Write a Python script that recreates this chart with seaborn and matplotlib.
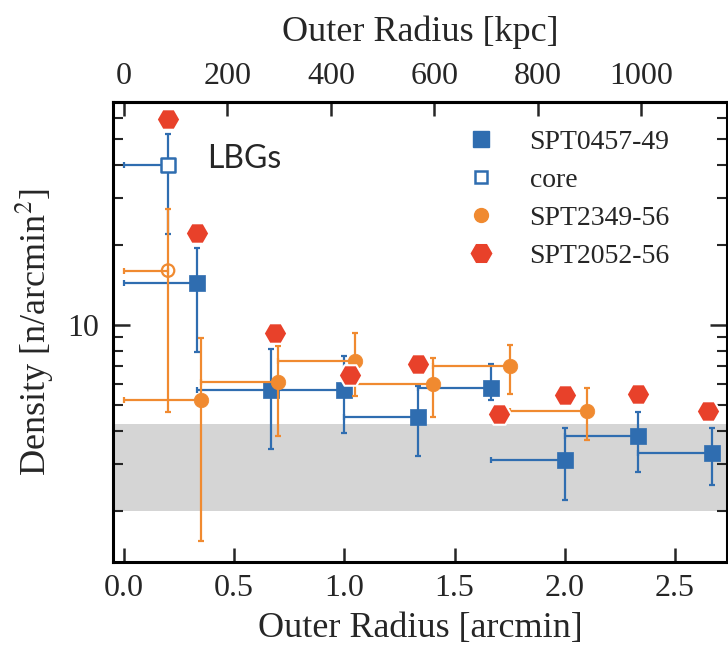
import numpy as np
import pandas as pd
import matplotlib
matplotlib.use("Agg")
import matplotlib.pyplot as plt
import seaborn as sns
from matplotlib.lines import Line2D
from matplotlib.ticker import FixedLocator, FixedFormatter, NullFormatter, LogLocator

# ---- SPT0457-49 (annuli, outer radius in arcmin) ----
spt0457_r_out = [1/3, 2/3, 1.0, 4/3, 5/3, 2.0, 7/3, 8/3]
spt0457_r_in = [0.0, 1/3, 2/3, 1.0, 4/3, 5/3, 2.0, 7/3]
spt0457_density = [14.4, 5.7, 5.7, 4.5, 5.8, 3.1, 3.8, 3.3]
spt0457_low = [7.9, 3.4, 3.9, 3.2, 5.2, 2.2, 2.8, 2.5]
spt0457_high = [19.5, 8.1, 7.6, 5.9, 7.1, 4.1, 4.7, 4.1]

# SPT0457-49 core
spt0457_core_r = [0.2]
spt0457_core_density = [39.8]
spt0457_core_low = [22.0]
spt0457_core_high = [52.1]

# ---- SPT2349-56 ----
spt2349_r_out = [0.35, 0.70, 1.05, 1.40, 1.75, 2.10]
spt2349_r_in = [0.0, 0.35, 0.70, 1.05, 1.40, 1.75]
spt2349_density = [5.2, 6.1, 7.3, 6.0, 7.0, 4.75]
spt2349_low = [1.53, 3.8, 5.4, 4.5, 5.5, 3.7]
spt2349_high = [8.9, 8.3, 9.3, 7.5, 8.4, 5.8]

# SPT2349-56 core
spt2349_core_r = [0.2]
spt2349_core_density = [16.0]
spt2349_core_low = [4.7]
spt2349_core_high = [27.4]

# ---- SPT2052-56 ----
spt2052_r = [0.2, 1/3, 0.685, 1.025, 4/3, 1.70, 2.0, 7/3, 2.65]
spt2052_density = [59.4, 22.2, 9.35, 6.5, 7.1, 4.6, 5.45, 5.5, 4.75]

# field level band
field_low, field_high = 2.0, 4.23
kpc_per_arcmin = 426.0

blue = "#2f6db0"
orange = "#f08a30"
red = "#e8412a"

sns.set_theme(style="ticks")
plt.rcParams["font.family"] = ["Liberation Serif", "DejaVu Serif"]
plt.rcParams["mathtext.fontset"] = "stix"

fig = plt.figure(figsize=(7.28, 6.55), dpi=100)
ax = fig.add_axes([0.1552, 0.142, 0.843, 0.7023])
ax.set_yscale("log")

ax.axhspan(field_low, field_high, color="#d5d5d5", lw=0, zorder=0)


def bars(r_out, r_in, d, lo, hi, color, z):
    r_out = np.asarray(r_out); r_in = np.asarray(r_in)
    d = np.asarray(d); lo = np.asarray(lo); hi = np.asarray(hi)
    ax.errorbar(r_out, d, yerr=[d - lo, hi - d],
                xerr=[r_out - r_in, np.zeros_like(r_out)],
                fmt="none", ecolor=color, elinewidth=1.6, capsize=2.5,
                capthick=1.6, zorder=z)


bars(spt0457_r_out, spt0457_r_in, spt0457_density, spt0457_low, spt0457_high, blue, 2)
bars(spt0457_core_r, [0.0], spt0457_core_density, spt0457_core_low, spt0457_core_high, blue, 2)
bars(spt2349_r_out, spt2349_r_in, spt2349_density, spt2349_low, spt2349_high, orange, 4)
bars(spt2349_core_r, [0.0], spt2349_core_density, spt2349_core_low, spt2349_core_high, orange, 4)

df0457 = pd.DataFrame({"r": spt0457_r_out, "d": spt0457_density})
df0457c = pd.DataFrame({"r": spt0457_core_r, "d": spt0457_core_density})
df2349 = pd.DataFrame({"r": spt2349_r_out, "d": spt2349_density})
df2349c = pd.DataFrame({"r": spt2349_core_r, "d": spt2349_core_density})
df2052 = pd.DataFrame({"r": spt2052_r, "d": spt2052_density})

sns.scatterplot(data=df0457, x="r", y="d", marker="s", s=130, color=blue,
                edgecolor=blue, linewidth=0.5, ax=ax, zorder=3, legend=False)
sns.scatterplot(data=df0457c, x="r", y="d", marker="s", s=90, facecolor="white",
                edgecolor=blue, linewidth=1.8, ax=ax, zorder=3, legend=False)
sns.scatterplot(data=df2349, x="r", y="d", marker="o", s=110, color=orange,
                edgecolor=orange, linewidth=0.5, ax=ax, zorder=5, legend=False)
sns.scatterplot(data=df2349c, x="r", y="d", marker="o", s=80, facecolor="none",
                edgecolor=orange, linewidth=1.6, ax=ax, zorder=5, legend=False)
sns.scatterplot(data=df2052, x="r", y="d", marker="H", s=290, color=red,
                edgecolor="white", linewidth=1.5, ax=ax, zorder=6, legend=False)

ax.set_xlim(-0.05, 2.735)
ax.set_ylim(1.28, 69)
ax.set_xticks([0.0, 0.5, 1.0, 1.5, 2.0, 2.5])
ax.set_xticklabels(["0.0", "0.5", "1.0", "1.5", "2.0", "2.5"])
ax.yaxis.set_major_locator(FixedLocator([10]))
ax.yaxis.set_major_formatter(FixedFormatter(["10"]))
ax.yaxis.set_minor_locator(LogLocator(base=10, subs=np.arange(2, 10)))
ax.yaxis.set_minor_formatter(NullFormatter())

ax.tick_params(axis="x", which="both", direction="in", top=False, bottom=True,
               length=10, width=1.8, labelsize=23, pad=9)
ax.tick_params(axis="y", which="major", direction="in", left=True, right=True,
               length=12, width=1.8, labelsize=23, pad=10)
ax.tick_params(axis="y", which="minor", direction="in", left=True, right=True,
               length=7, width=1.5)
for s in ax.spines.values():
    s.set_linewidth(2.2)
    s.set_color("black")

ax.set_xlabel("Outer Radius [arcmin]", fontsize=26, labelpad=6)
ax.set_ylabel("Density [n/arcmin$^2$]", fontsize=26, labelpad=8)

top = ax.secondary_xaxis("top", functions=(lambda x: x * kpc_per_arcmin,
                                           lambda k: k / kpc_per_arcmin))
top.set_xticks([0, 200, 400, 600, 800, 1000])
top.tick_params(direction="in", length=10, width=1.8, labelsize=23, pad=8)
top.spines["top"].set_linewidth(2.2)
top.set_xlabel("Outer Radius [kpc]", fontsize=26, labelpad=15)

ax.text(0.375, 42, "LBGs", fontsize=23, family=["Lato", "DejaVu Sans"],
        ha="left", va="center")

handles = [
    Line2D([], [], ls="none", marker="s", ms=11, color=blue, mec=blue),
    Line2D([], [], ls="none", marker="s", ms=9, mfc="white", mec=blue, mew=1.8),
    Line2D([], [], ls="none", marker="o", ms=10, color=orange),
    Line2D([], [], ls="none", marker="H", ms=17, color=red, mec="white", mew=1),
]
labels = ["SPT0457-49", "core", "SPT2349-56", "SPT2052-56"]
ax.legend(handles, labels, loc="upper left", bbox_to_anchor=(0.525, 0.995),
          frameon=False, fontsize=20, handletextpad=1.0, labelspacing=0.45,
          handlelength=1.5)

fig.savefig("out.png", dpi=100)
